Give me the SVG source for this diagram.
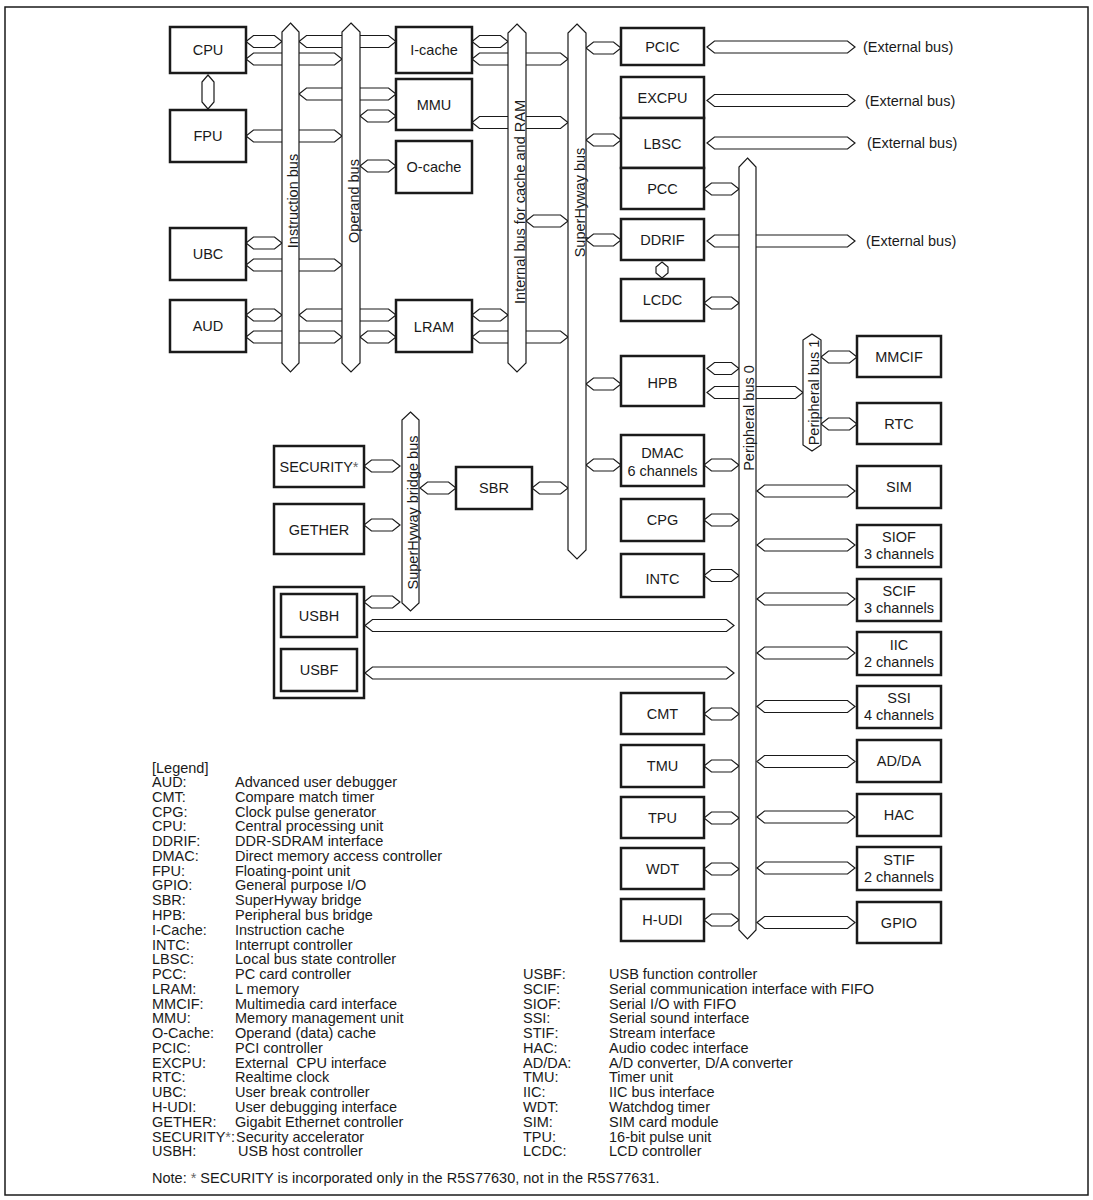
<svg xmlns="http://www.w3.org/2000/svg" width="1093" height="1200" viewBox="0 0 1093 1200">
<style>
.box{fill:#fff;stroke:#1a1a1a;stroke-width:2.5}
.bus{fill:#fff;stroke:#1a1a1a;stroke-width:1.2}
.con{fill:#fff;stroke:#1a1a1a;stroke-width:1.2}
.frame{fill:none;stroke:#1a1a1a;stroke-width:1.5}
text{font-family:"Liberation Sans",Arial,Helvetica,sans-serif;font-size:14.5px;fill:#1a1a1a}
.c{text-anchor:middle}
.ast{fill:#666}
</style>
<rect class="frame" x="5" y="7" width="1083" height="1188"/>
<g id="connectors">
<path class="con" d="M246 41.5l7.5-6H274.5l7.5 6-7.5 6H253.5Z"/>
<path class="con" d="M246 59l7.5-6H334.5l7.5 6-7.5 6H253.5Z"/>
<path class="con" d="M299 41.5l7.5-6H388.5l7.5 6-7.5 6H306.5Z"/>
<path class="con" d="M299 94l7.5-6H388.5l7.5 6-7.5 6H306.5Z"/>
<path class="con" d="M360 116l7.5-6H388.5l7.5 6-7.5 6H367.5Z"/>
<path class="con" d="M246 136l7.5-6H334.5l7.5 6-7.5 6H253.5Z"/>
<path class="con" d="M360 166l7.5-6H388.5l7.5 6-7.5 6H367.5Z"/>
<path class="con" d="M246 243l7.5-6H274.5l7.5 6-7.5 6H253.5Z"/>
<path class="con" d="M246 265l7.5-6H334.5l7.5 6-7.5 6H253.5Z"/>
<path class="con" d="M246 315l7.5-6H274.5l7.5 6-7.5 6H253.5Z"/>
<path class="con" d="M246 337l7.5-6H334.5l7.5 6-7.5 6H253.5Z"/>
<path class="con" d="M299 315l7.5-6H388.5l7.5 6-7.5 6H306.5Z"/>
<path class="con" d="M360 337l7.5-6H388.5l7.5 6-7.5 6H367.5Z"/>
<path class="con" d="M472 41.5l7.5-6H500.5l7.5 6-7.5 6H479.5Z"/>
<path class="con" d="M472 59l7.5-6H560.5l7.5 6-7.5 6H479.5Z"/>
<path class="con" d="M472 122.5l7.5-6H560.5l7.5 6-7.5 6H479.5Z"/>
<path class="con" d="M526 221l7.5-6H560.5l7.5 6-7.5 6H533.5Z"/>
<path class="con" d="M472 315l7.5-6H500.5l7.5 6-7.5 6H479.5Z"/>
<path class="con" d="M472 337l7.5-6H560.5l7.5 6-7.5 6H479.5Z"/>
<path class="con" d="M586 48l7.5-6H613.5l7.5 6-7.5 6H593.5Z"/>
<path class="con" d="M707 47l7.5-6H847.5l7.5 6-7.5 6H714.5Z"/>
<path class="con" d="M707 100.5l7.5-6H847.5l7.5 6-7.5 6H714.5Z"/>
<path class="con" d="M586 140l7.5-6H613.5l7.5 6-7.5 6H593.5Z"/>
<path class="con" d="M707 143l7.5-6H847.5l7.5 6-7.5 6H714.5Z"/>
<path class="con" d="M704 189l7.5-6H731.5l7.5 6-7.5 6H711.5Z"/>
<path class="con" d="M586 240l7.5-6H613.5l7.5 6-7.5 6H593.5Z"/>
<path class="con" d="M707 241l7.5-6H847.5l7.5 6-7.5 6H714.5Z"/>
<path class="con" d="M662 262l6 5V273l-6 5-6-5V267Z"/>
<path class="con" d="M704 303l7.5-6H731.5l7.5 6-7.5 6H711.5Z"/>
<path class="con" d="M707 368.5l7.5-6H731.5l7.5 6-7.5 6H714.5Z"/>
<path class="con" d="M586 384l7.5-6H613.5l7.5 6-7.5 6H593.5Z"/>
<path class="con" d="M707 392.5l7.5-6H795.5l7.5 6-7.5 6H714.5Z"/>
<path class="con" d="M821 357l7.5-6H849.5l7.5 6-7.5 6H828.5Z"/>
<path class="con" d="M821 424l7.5-6H849.5l7.5 6-7.5 6H828.5Z"/>
<path class="con" d="M586 465l7.5-6H613.5l7.5 6-7.5 6H593.5Z"/>
<path class="con" d="M704 465l7.5-6H731.5l7.5 6-7.5 6H711.5Z"/>
<path class="con" d="M704 520l7.5-6H731.5l7.5 6-7.5 6H711.5Z"/>
<path class="con" d="M757 491l7.5-6H847.5l7.5 6-7.5 6H764.5Z"/>
<path class="con" d="M757 545l7.5-6H847.5l7.5 6-7.5 6H764.5Z"/>
<path class="con" d="M704 575.5l7.5-6H731.5l7.5 6-7.5 6H711.5Z"/>
<path class="con" d="M532 488l7.5-6H560.5l7.5 6-7.5 6H539.5Z"/>
<path class="con" d="M420 488l7.5-6H448.5l7.5 6-7.5 6H427.5Z"/>
<path class="con" d="M364 466l7.5-6H392.5l7.5 6-7.5 6H371.5Z"/>
<path class="con" d="M364 525l7.5-6H392.5l7.5 6-7.5 6H371.5Z"/>
<path class="con" d="M364 602l7.5-6H392.5l7.5 6-7.5 6H371.5Z"/>
<path class="con" d="M365 625.5l7.5-6H726.5l7.5 6-7.5 6H372.5Z"/>
<path class="con" d="M365 673l7.5-6H726.5l7.5 6-7.5 6H372.5Z"/>
<path class="con" d="M757 599l7.5-6H847.5l7.5 6-7.5 6H764.5Z"/>
<path class="con" d="M757 653l7.5-6H847.5l7.5 6-7.5 6H764.5Z"/>
<path class="con" d="M757 706.5l7.5-6H847.5l7.5 6-7.5 6H764.5Z"/>
<path class="con" d="M704 714l7.5-6H731.5l7.5 6-7.5 6H711.5Z"/>
<path class="con" d="M757 761.5l7.5-6H847.5l7.5 6-7.5 6H764.5Z"/>
<path class="con" d="M704 766l7.5-6H731.5l7.5 6-7.5 6H711.5Z"/>
<path class="con" d="M757 817l7.5-6H847.5l7.5 6-7.5 6H764.5Z"/>
<path class="con" d="M704 818l7.5-6H731.5l7.5 6-7.5 6H711.5Z"/>
<path class="con" d="M757 868l7.5-6H847.5l7.5 6-7.5 6H764.5Z"/>
<path class="con" d="M704 869l7.5-6H731.5l7.5 6-7.5 6H711.5Z"/>
<path class="con" d="M757 922.5l7.5-6H847.5l7.5 6-7.5 6H764.5Z"/>
<path class="con" d="M704 920l7.5-6H731.5l7.5 6-7.5 6H711.5Z"/>
<path class="con" d="M208 75l6 7V102l-6 7-6-7V82Z"/>
</g>
<g id="ext-labels">
<text x="863" y="52">(External bus)</text>
<text x="865" y="105.5">(External bus)</text>
<text x="867" y="148">(External bus)</text>
<text x="866" y="246">(External bus)</text>
</g>
<g id="instruction-bus"><path class="bus" d="M290.5 23L299 32V363L290.5 372L282 363V32Z"/><text class="c" transform="translate(297.5 201) rotate(-90)">Instruction bus</text></g>
<g id="operand-bus"><path class="bus" d="M351 23L360 32V363L351 372L342 363V32Z"/><text class="c" transform="translate(358.5 201) rotate(-90)">Operand bus</text></g>
<g id="internal-bus"><path class="bus" d="M517 24L526 33V363L517 372L508 363V33Z"/><text class="c" transform="translate(524.5 202) rotate(-90)">Internal bus for cache and RAM</text></g>
<g id="superhyway-bus"><path class="bus" d="M577 24L586 33V550L577 559L568 550V33Z"/><text class="c" transform="translate(584.5 202.5) rotate(-90)">SuperHyway bus</text></g>
<g id="peripheral-bus-0"><path class="bus" d="M747.5 158L756 167V930L747.5 939L739 930V167Z"/><text class="c" transform="translate(754 418) rotate(-90)">Peripheral bus 0</text></g>
<g id="peripheral-bus-1"><path class="bus" d="M812 334L821 340V445L812 451L803 445V340Z"/><text class="c" transform="translate(819 392.5) rotate(-90)">Peripheral bus 1</text></g>
<g id="bridge-bus"><path class="bus" d="M410.5 412L419 420V603L410.5 611L402 603V420Z"/><text class="c" transform="translate(417.5 512.5) rotate(-90)">SuperHyway bridge bus</text></g>
<g id="cpu"><rect class="box" x="170" y="27" width="76" height="46"/><text class="c" x="208" y="55">CPU</text></g>
<g id="fpu"><rect class="box" x="170" y="110" width="76" height="52"/><text class="c" x="208" y="141">FPU</text></g>
<g id="ubc"><rect class="box" x="170" y="228" width="76" height="52"/><text class="c" x="208" y="259">UBC</text></g>
<g id="aud"><rect class="box" x="170" y="300" width="76" height="52"/><text class="c" x="208" y="331">AUD</text></g>
<g id="icache"><rect class="box" x="396" y="27" width="76" height="46"/><text class="c" x="434" y="55">I-cache</text></g>
<g id="mmu"><rect class="box" x="396" y="79" width="76" height="51"/><text class="c" x="434" y="110">MMU</text></g>
<g id="ocache"><rect class="box" x="396" y="141" width="76" height="52"/><text class="c" x="434" y="172">O-cache</text></g>
<g id="lram"><rect class="box" x="396" y="300" width="76" height="52"/><text class="c" x="434" y="332">LRAM</text></g>
<g id="pcic"><rect class="box" x="621" y="28" width="83" height="37"/><text class="c" x="662.5" y="52">PCIC</text></g>
<g id="excpu"><rect class="box" x="621" y="77" width="83" height="41"/><text class="c" x="662.5" y="103">EXCPU</text></g>
<g id="lbsc"><rect class="box" x="621" y="118" width="83" height="50"/><text class="c" x="662.5" y="149">LBSC</text></g>
<g id="pcc"><rect class="box" x="621" y="168" width="83" height="41"/><text class="c" x="662.5" y="194">PCC</text></g>
<g id="ddrif"><rect class="box" x="621" y="219" width="83" height="41"/><text class="c" x="662.5" y="245">DDRIF</text></g>
<g id="lcdc"><rect class="box" x="621" y="279" width="83" height="42"/><text class="c" x="662.5" y="305">LCDC</text></g>
<g id="hpb"><rect class="box" x="621" y="356" width="83" height="50"/><text class="c" x="662.5" y="388">HPB</text></g>
<g id="dmac"><rect class="box" x="621" y="435" width="83" height="51"/><text class="c" x="662.5" y="458">DMAC</text><text class="c" x="662.5" y="476">6 channels</text></g>
<g id="cpg"><rect class="box" x="621" y="499" width="83" height="42"/><text class="c" x="662.5" y="525">CPG</text></g>
<g id="intc"><rect class="box" x="621" y="554" width="83" height="43"/><text class="c" x="662.5" y="584">INTC</text></g>
<g id="cmt"><rect class="box" x="621" y="693" width="83" height="41"/><text class="c" x="662.5" y="719">CMT</text></g>
<g id="tmu"><rect class="box" x="621" y="745" width="83" height="42"/><text class="c" x="662.5" y="771">TMU</text></g>
<g id="tpu"><rect class="box" x="621" y="797" width="83" height="41"/><text class="c" x="662.5" y="823">TPU</text></g>
<g id="wdt"><rect class="box" x="621" y="848" width="83" height="41"/><text class="c" x="662.5" y="874">WDT</text></g>
<g id="hudi"><rect class="box" x="621" y="899" width="83" height="42"/><text class="c" x="662.5" y="925">H-UDI</text></g>
<g id="mmcif"><rect class="box" x="857" y="336" width="84" height="41"/><text class="c" x="899" y="362">MMCIF</text></g>
<g id="rtc"><rect class="box" x="857" y="403" width="84" height="41"/><text class="c" x="899" y="429">RTC</text></g>
<g id="sim"><rect class="box" x="857" y="466" width="84" height="42"/><text class="c" x="899" y="492">SIM</text></g>
<g id="siof"><rect class="box" x="857" y="525" width="84" height="42"/><text class="c" x="899" y="542">SIOF</text><text class="c" x="899" y="559">3 channels</text></g>
<g id="scif"><rect class="box" x="857" y="579" width="84" height="42"/><text class="c" x="899" y="596">SCIF</text><text class="c" x="899" y="613">3 channels</text></g>
<g id="iic"><rect class="box" x="857" y="632" width="84" height="43"/><text class="c" x="899" y="650">IIC</text><text class="c" x="899" y="667">2 channels</text></g>
<g id="ssi"><rect class="box" x="857" y="686" width="84" height="42"/><text class="c" x="899" y="703">SSI</text><text class="c" x="899" y="720">4 channels</text></g>
<g id="adda"><rect class="box" x="857" y="740" width="84" height="42"/><text class="c" x="899" y="766">AD/DA</text></g>
<g id="hac"><rect class="box" x="857" y="794" width="84" height="42"/><text class="c" x="899" y="820">HAC</text></g>
<g id="stif"><rect class="box" x="857" y="847" width="84" height="43"/><text class="c" x="899" y="865">STIF</text><text class="c" x="899" y="882">2 channels</text></g>
<g id="gpio"><rect class="box" x="857" y="902" width="84" height="41"/><text class="c" x="899" y="928">GPIO</text></g>
<g id="sbr"><rect class="box" x="456" y="467" width="76" height="42"/><text class="c" x="494" y="493">SBR</text></g>
<g id="security"><rect class="box" x="274" y="446" width="90" height="41"/><text class="c" x="319" y="472">SECURITY<tspan class="ast">*</tspan></text></g>
<g id="gether"><rect class="box" x="274" y="504" width="90" height="50"/><text class="c" x="319" y="535">GETHER</text></g>
<g id="usb"><rect class="box" x="274" y="587" width="90" height="111"/>
<g id="usbh"><rect class="box" x="281" y="594" width="76" height="43"/><text class="c" x="319" y="621">USBH</text></g>
<g id="usbf"><rect class="box" x="281" y="649" width="76" height="42"/><text class="c" x="319" y="675">USBF</text></g></g>
<g id="legend">
<text x="152" y="773">[Legend]</text>
<text x="152"><tspan x="152" y="787">AUD:</tspan><tspan x="152" y="801.8">CMT:</tspan><tspan x="152" y="816.5">CPG:</tspan><tspan x="152" y="831.3">CPU:</tspan><tspan x="152" y="846.1">DDRIF:</tspan><tspan x="152" y="860.9">DMAC:</tspan><tspan x="152" y="875.6">FPU:</tspan><tspan x="152" y="890.4">GPIO:</tspan><tspan x="152" y="905.2">SBR:</tspan><tspan x="152" y="919.9">HPB:</tspan><tspan x="152" y="934.7">I-Cache:</tspan><tspan x="152" y="949.5">INTC:</tspan><tspan x="152" y="964.2">LBSC:</tspan><tspan x="152" y="979">PCC:</tspan><tspan x="152" y="993.8">LRAM:</tspan><tspan x="152" y="1008.6">MMCIF:</tspan><tspan x="152" y="1023.3">MMU:</tspan><tspan x="152" y="1038.1">O-Cache:</tspan><tspan x="152" y="1052.9">PCIC:</tspan><tspan x="152" y="1067.6">EXCPU:</tspan><tspan x="152" y="1082.4">RTC:</tspan><tspan x="152" y="1097.2">UBC:</tspan><tspan x="152" y="1111.9">H-UDI:</tspan><tspan x="152" y="1126.7">GETHER:</tspan><tspan x="152" y="1141.5">SECURITY<tspan class="ast">*</tspan>:</tspan><tspan x="152" y="1156.3">USBH:</tspan></text>
<text x="235"><tspan x="235" y="787">Advanced user debugger</tspan><tspan x="235" y="801.8">Compare match timer</tspan><tspan x="235" y="816.5">Clock pulse generator</tspan><tspan x="235" y="831.3">Central processing unit</tspan><tspan x="235" y="846.1">DDR-SDRAM interface</tspan><tspan x="235" y="860.9">Direct memory access controller</tspan><tspan x="235" y="875.6">Floating-point unit</tspan><tspan x="235" y="890.4">General purpose I/O</tspan><tspan x="235" y="905.2">SuperHyway bridge</tspan><tspan x="235" y="919.9">Peripheral bus bridge</tspan><tspan x="235" y="934.7">Instruction cache</tspan><tspan x="235" y="949.5">Interrupt controller</tspan><tspan x="235" y="964.2">Local bus state controller</tspan><tspan x="235" y="979">PC card controller</tspan><tspan x="235" y="993.8">L memory</tspan><tspan x="235" y="1008.6">Multimedia card interface</tspan><tspan x="235" y="1023.3">Memory management unit</tspan><tspan x="235" y="1038.1">Operand (data) cache</tspan><tspan x="235" y="1052.9">PCI controller</tspan><tspan x="235" y="1067.6">External&#160; CPU interface</tspan><tspan x="235" y="1082.4">Realtime clock</tspan><tspan x="235" y="1097.2">User break controller</tspan><tspan x="235" y="1111.9">User debugging interface</tspan><tspan x="235" y="1126.7">Gigabit Ethernet controller</tspan><tspan x="236" y="1141.5">Security accelerator</tspan><tspan x="238" y="1156.3">USB host controller</tspan></text>
<text x="523"><tspan x="523" y="979">USBF:</tspan><tspan x="523" y="993.8">SCIF:</tspan><tspan x="523" y="1008.6">SIOF:</tspan><tspan x="523" y="1023.3">SSI:</tspan><tspan x="523" y="1038.1">STIF:</tspan><tspan x="523" y="1052.9">HAC:</tspan><tspan x="523" y="1067.6">AD/DA:</tspan><tspan x="523" y="1082.4">TMU:</tspan><tspan x="523" y="1097.2">IIC:</tspan><tspan x="523" y="1111.9">WDT:</tspan><tspan x="523" y="1126.7">SIM:</tspan><tspan x="523" y="1141.5">TPU:</tspan><tspan x="523" y="1156.3">LCDC:</tspan></text>
<text x="609"><tspan x="609" y="979">USB function controller</tspan><tspan x="609" y="993.8">Serial communication interface with FIFO</tspan><tspan x="609" y="1008.6">Serial I/O with FIFO</tspan><tspan x="609" y="1023.3">Serial sound interface</tspan><tspan x="609" y="1038.1">Stream interface</tspan><tspan x="609" y="1052.9">Audio codec interface</tspan><tspan x="609" y="1067.6">A/D converter, D/A converter</tspan><tspan x="609" y="1082.4">Timer unit</tspan><tspan x="609" y="1097.2">IIC bus interface</tspan><tspan x="609" y="1111.9">Watchdog timer</tspan><tspan x="609" y="1126.7">SIM card module</tspan><tspan x="609" y="1141.5">16-bit pulse unit</tspan><tspan x="609" y="1156.3">LCD controller</tspan></text>
<text x="152" y="1183">Note: <tspan class="ast">*</tspan> SECURITY is incorporated only in the R5S77630, not in the R5S77631.</text>
</g>
</svg>
